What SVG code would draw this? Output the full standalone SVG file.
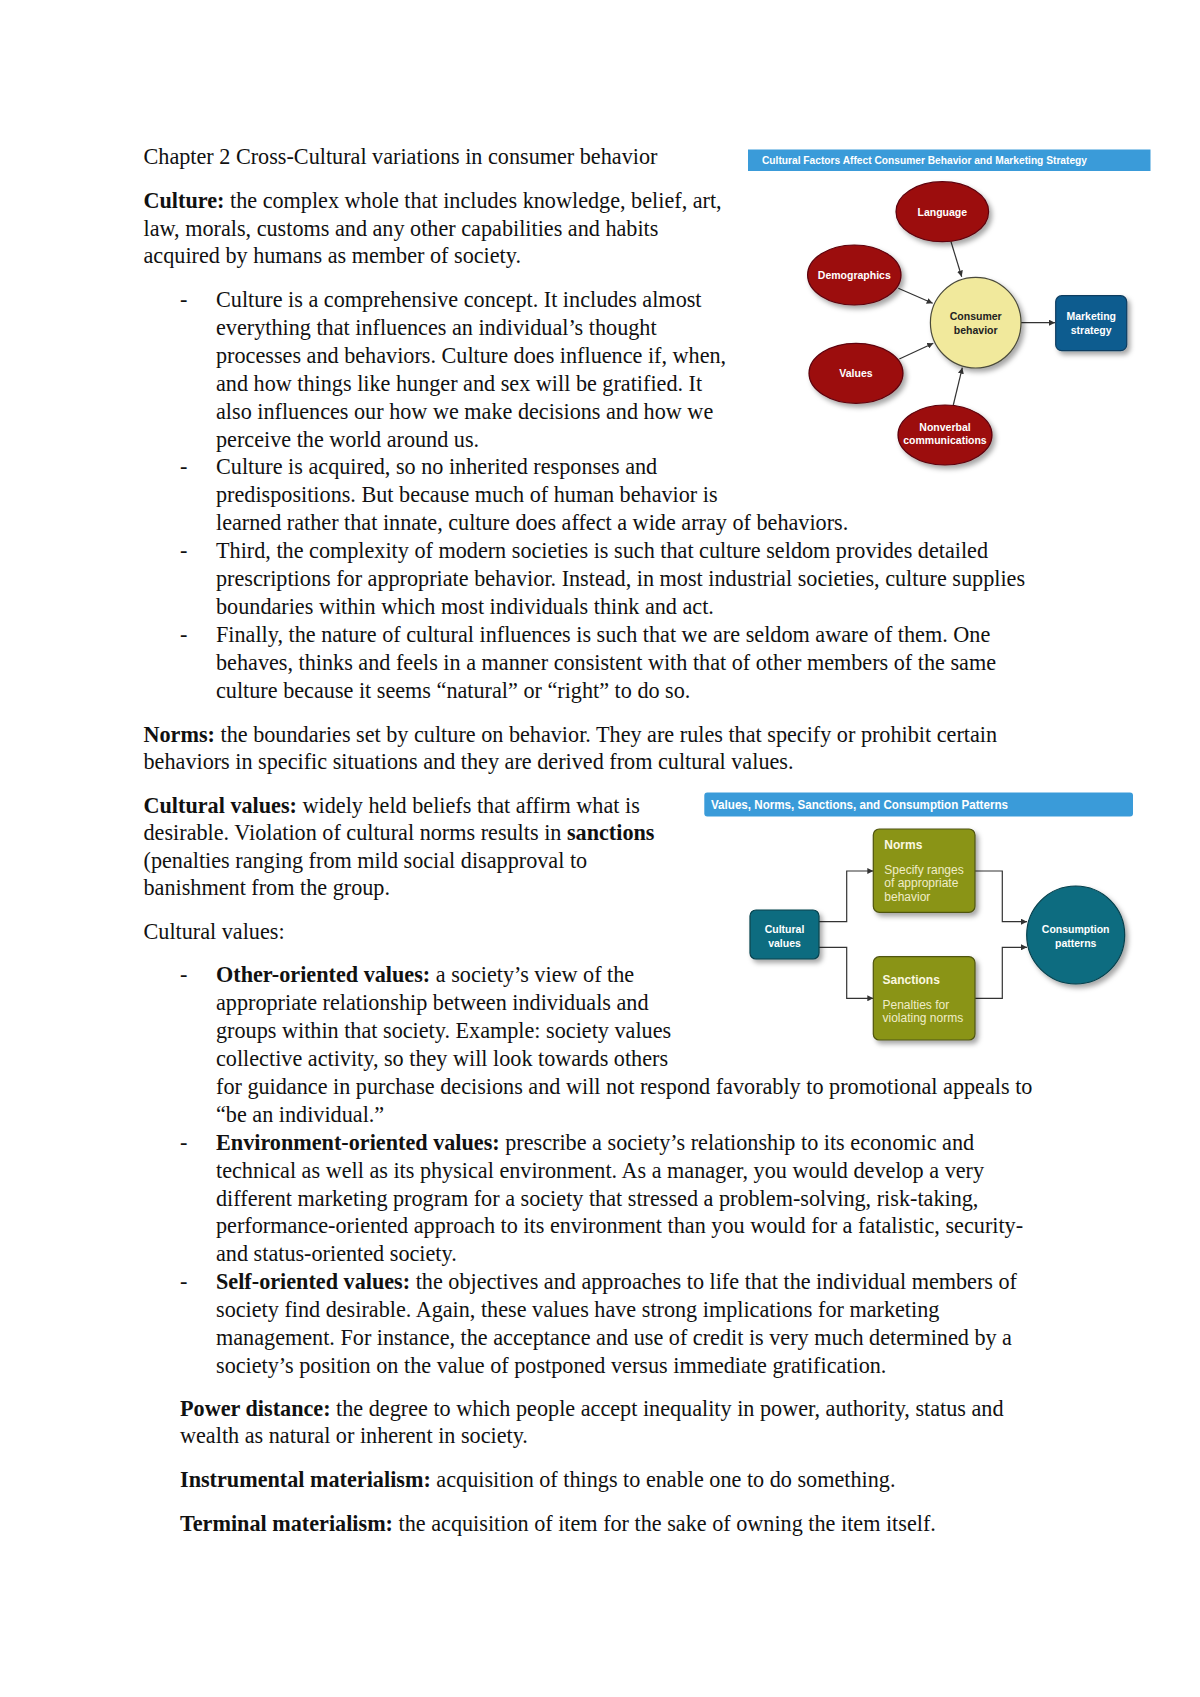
<svg xmlns="http://www.w3.org/2000/svg" width="1200" height="1697" viewBox="0 0 1200 1697">
<style>
.t{font-family:"Liberation Serif","Times New Roman",serif;font-size:22.2px;fill:#111}
.b{font-weight:bold}
.d{font-family:"Liberation Sans",Arial,sans-serif;font-weight:bold;font-size:10.5px;text-anchor:middle}
.w{fill:#fff}
.k{fill:#222}
.d2{font-family:"Liberation Sans",Arial,sans-serif;font-size:12px}
.hd{font-family:"Liberation Sans",Arial,sans-serif;font-weight:bold;fill:#fff}
.red{fill:#9c0a10;stroke:#5e0609;stroke-width:1.2}
.ol{fill:#8a9418;stroke:#4f5510;stroke-width:1.2}
.tl{fill:#0d6c80;stroke:#07414d;stroke-width:1.2}
.ln{fill:none;stroke:#333;stroke-width:1.2}
</style>
<defs>
<filter id="sh" x="-30%" y="-30%" width="170%" height="170%">
<feDropShadow dx="3" dy="3.5" stdDeviation="2.5" flood-color="#000" flood-opacity="0.35"/>
</filter>
<marker id="ah" viewBox="0 0 10 10" refX="10" refY="5" markerWidth="6" markerHeight="6" markerUnits="userSpaceOnUse" orient="auto">
<path d="M0,0 L10,5 L0,10 z" fill="#333"/>
</marker>
<marker id="ah2" viewBox="0 0 10 10" refX="10" refY="5" markerWidth="7" markerHeight="6" markerUnits="userSpaceOnUse" orient="auto">
<path d="M0,0 L10,5 L0,10 z" fill="#333"/>
</marker>
</defs>
<rect width="1200" height="1697" fill="#fff"/>

<g id="body-text">
<text class="t" x="143.5" y="164">Chapter 2 Cross-Cultural variations in consumer behavior</text>
<text class="t" x="143.5" y="208"><tspan class="b">Culture:</tspan> the complex whole that includes knowledge, belief, art,</text>
<text class="t" x="143.5" y="235.5">law, morals, customs and any other capabilities and habits</text>
<text class="t" x="143.5" y="263">acquired by humans as member of society.</text>

<text class="t" x="180" y="307">-</text>
<text class="t" x="216" y="307">Culture is a comprehensive concept. It includes almost</text>
<text class="t" x="216" y="334.9">everything that influences an individual’s thought</text>
<text class="t" x="216" y="362.8">processes and behaviors. Culture does influence if, when,</text>
<text class="t" x="216" y="390.7">and how things like hunger and sex will be gratified. It</text>
<text class="t" x="216" y="418.6">also influences our how we make decisions and how we</text>
<text class="t" x="216" y="446.5">perceive the world around us.</text>
<text class="t" x="180" y="474.4">-</text>
<text class="t" x="216" y="474.4">Culture is acquired, so no inherited responses and</text>
<text class="t" x="216" y="502.3">predispositions. But because much of human behavior is</text>
<text class="t" x="216" y="530.2">learned rather that innate, culture does affect a wide array of behaviors.</text>
<text class="t" x="180" y="558.1">-</text>
<text class="t" x="216" y="558.1">Third, the complexity of modern societies is such that culture seldom provides detailed</text>
<text class="t" x="216" y="586">prescriptions for appropriate behavior. Instead, in most industrial societies, culture supplies</text>
<text class="t" x="216" y="613.9">boundaries within which most individuals think and act.</text>
<text class="t" x="180" y="641.8">-</text>
<text class="t" x="216" y="641.8">Finally, the nature of cultural influences is such that we are seldom aware of them. One</text>
<text class="t" x="216" y="669.7">behaves, thinks and feels in a manner consistent with that of other members of the same</text>
<text class="t" x="216" y="697.6">culture because it seems “natural” or “right” to do so.</text>

<text class="t" x="143.5" y="741.5"><tspan class="b">Norms:</tspan> the boundaries set by culture on behavior. They are rules that specify or prohibit certain</text>
<text class="t" x="143.5" y="769">behaviors in specific situations and they are derived from cultural values.</text>

<text class="t" x="143.5" y="812.5"><tspan class="b">Cultural values:</tspan> widely held beliefs that affirm what is</text>
<text class="t" x="143.5" y="840.2">desirable. Violation of cultural norms results in <tspan class="b">sanctions</tspan></text>
<text class="t" x="143.5" y="867.7">(penalties ranging from mild social disapproval to</text>
<text class="t" x="143.5" y="895.3">banishment from the group.</text>
<text class="t" x="143.5" y="938.5">Cultural values:</text>

<text class="t" x="180" y="982.3">-</text>
<text class="t" x="216" y="982.3"><tspan class="b">Other-oriented values:</tspan> a society’s view of the</text>
<text class="t" x="216" y="1010.2">appropriate relationship between individuals and</text>
<text class="t" x="216" y="1038.1">groups within that society. Example: society values</text>
<text class="t" x="216" y="1066">collective activity, so they will look towards others</text>
<text class="t" x="216" y="1093.9">for guidance in purchase decisions and will not respond favorably to promotional appeals to</text>
<text class="t" x="216" y="1121.8">“be an individual.”</text>
<text class="t" x="180" y="1149.7">-</text>
<text class="t" x="216" y="1149.7"><tspan class="b">Environment-oriented values:</tspan> prescribe a society’s relationship to its economic and</text>
<text class="t" x="216" y="1177.6">technical as well as its physical environment. As a manager, you would develop a very</text>
<text class="t" x="216" y="1205.5">different marketing program for a society that stressed a problem-solving, risk-taking,</text>
<text class="t" x="216" y="1233.4">performance-oriented approach to its environment than you would for a fatalistic, security-</text>
<text class="t" x="216" y="1261.3">and status-oriented society.</text>
<text class="t" x="180" y="1289.2">-</text>
<text class="t" x="216" y="1289.2"><tspan class="b">Self-oriented values:</tspan> the objectives and approaches to life that the individual members of</text>
<text class="t" x="216" y="1317.1">society find desirable. Again, these values have strong implications for marketing</text>
<text class="t" x="216" y="1345">management. For instance, the acceptance and use of credit is very much determined by a</text>
<text class="t" x="216" y="1372.9">society’s position on the value of postponed versus immediate gratification.</text>

<text class="t" x="180" y="1415.5"><tspan class="b">Power distance:</tspan> the degree to which people accept inequality in power, authority, status and</text>
<text class="t" x="180" y="1443">wealth as natural or inherent in society.</text>
<text class="t" x="180" y="1486.5"><tspan class="b">Instrumental materialism:</tspan> acquisition of things to enable one to do something.</text>
<text class="t" x="180" y="1531"><tspan class="b">Terminal materialism:</tspan> the acquisition of item for the sake of owning the item itself.</text>
</g>

<!-- Diagram 1 -->
<g id="fig1-title">
<rect x="748" y="149.5" width="402.5" height="21.5" fill="#3a9bd9"/>
<text class="hd" x="762" y="164.3" font-size="11.3" textLength="325" lengthAdjust="spacingAndGlyphs">Cultural Factors Affect Consumer Behavior and Marketing Strategy</text>
</g>
<g id="fig1-connectors">
<line class="ln" x1="951" y1="241.7" x2="961.7" y2="276.7" marker-end="url(#ah)"/>
<line class="ln" x1="898.3" y1="288.3" x2="932.7" y2="303.3" marker-end="url(#ah)"/>
<line class="ln" x1="899.3" y1="359" x2="933.3" y2="343.3" marker-end="url(#ah)"/>
<line class="ln" x1="953.3" y1="405" x2="962.3" y2="367.7" marker-end="url(#ah)"/>
<line class="ln" x1="1021" y1="322.7" x2="1055" y2="322.7" marker-end="url(#ah)"/>
</g>
<g id="language">
<ellipse class="red" cx="942.3" cy="211.7" rx="46.3" ry="30" filter="url(#sh)"/>
<text class="d w" x="942.3" y="215.5">Language</text>
</g>
<g id="demographics">
<ellipse class="red" cx="854.3" cy="275" rx="46.7" ry="30" filter="url(#sh)"/>
<text class="d w" x="854.3" y="278.8">Demographics</text>
</g>
<g id="values">
<ellipse class="red" cx="856" cy="373.3" rx="47" ry="30" filter="url(#sh)"/>
<text class="d w" x="856" y="377.1">Values</text>
</g>
<g id="nonverbal">
<ellipse class="red" cx="945" cy="435" rx="47" ry="30" filter="url(#sh)"/>
<text class="d w" x="945" y="430.5">Nonverbal</text>
<text class="d w" x="945" y="443.8">communications</text>
</g>
<g id="consumer-behavior">
<circle cx="975.7" cy="322.7" r="45.3" fill="#f1e99c" stroke="#4a4a3a" stroke-width="1.2" filter="url(#sh)"/>
<text class="d k" x="975.7" y="320.3">Consumer</text>
<text class="d k" x="975.7" y="333.7">behavior</text>
</g>
<g id="marketing-strategy">
<rect x="1055.7" y="295.7" width="71" height="55" rx="6" fill="#0f5c8f" stroke="#0a3d61" stroke-width="1.2" filter="url(#sh)"/>
<text class="d w" x="1091.2" y="320.3">Marketing</text>
<text class="d w" x="1091.2" y="333.7">strategy</text>
</g>

<!-- Diagram 2 -->
<g id="fig2-title">
<rect x="704.3" y="792.5" width="428.7" height="24" rx="3" fill="#3a9bd9"/>
<text class="hd" x="711" y="809.2" font-size="12.3" textLength="297" lengthAdjust="spacingAndGlyphs">Values, Norms, Sanctions, and Consumption Patterns</text>
</g>
<g id="fig2-connectors">
<polyline class="ln" points="819,921.7 846.7,921.7 846.7,871 873.3,871" marker-end="url(#ah2)"/>
<polyline class="ln" points="819,947.3 846.7,947.3 846.7,998.3 873.3,998.3" marker-end="url(#ah2)"/>
<polyline class="ln" points="975,871 1002.3,871 1002.3,921.7 1027,921.7" marker-end="url(#ah2)"/>
<polyline class="ln" points="975,998.3 1002.3,998.3 1002.3,947.3 1027,947.3" marker-end="url(#ah2)"/>
</g>
<g id="cultural-values">
<rect class="tl" x="750" y="910" width="69" height="49" rx="6" filter="url(#sh)"/>
<text class="d w" x="784.5" y="932.8" font-size="12.6">Cultural</text>
<text class="d w" x="784.5" y="946.5" font-size="12.6">values</text>
</g>
<g id="norms">
<rect class="ol" x="873.3" y="829" width="101.7" height="83.3" rx="6" filter="url(#sh)"/>
<text class="d2" x="884.3" y="849" font-weight="bold" fill="#fbf8e0">Norms</text>
<text class="d2" x="884.3" y="873.5" fill="#f0edc8">Specify ranges</text>
<text class="d2" x="884.3" y="887.3" fill="#f0edc8">of appropriate</text>
<text class="d2" x="884.3" y="900.5" fill="#f0edc8">behavior</text>
</g>
<g id="sanctions">
<rect class="ol" x="873.3" y="956.7" width="101.7" height="83.3" rx="6" filter="url(#sh)"/>
<text class="d2" x="882.5" y="984.3" font-weight="bold" fill="#fbf8e0">Sanctions</text>
<text class="d2" x="882.5" y="1009" fill="#f0edc8">Penalties for</text>
<text class="d2" x="882.5" y="1021.8" fill="#f0edc8">violating norms</text>
</g>
<g id="consumption-patterns">
<circle class="tl" cx="1075.7" cy="935" r="49" filter="url(#sh)"/>
<text class="d w" x="1075.7" y="932.8" font-size="12.6">Consumption</text>
<text class="d w" x="1075.7" y="946.5" font-size="12.6">patterns</text>
</g>
</svg>
